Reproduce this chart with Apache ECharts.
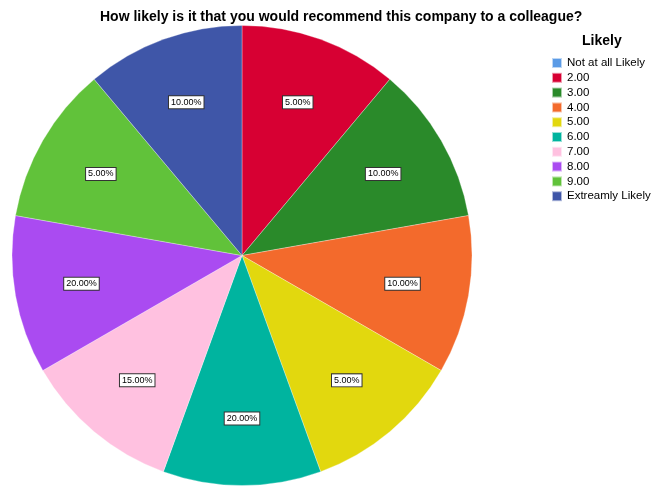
<!DOCTYPE html>
<html>
<head>
<meta charset="utf-8">
<script src="https://cdn.jsdelivr.net/npm/echarts@6/dist/echarts.min.js"></script>
<style>
html,body{margin:0;padding:0;background:#fff;}
#chart{width:651px;height:488px;}
</style>
</head>
<body>
<div id="chart"></div>
<script>
const categories = ['Not at all Likely','2.00','3.00','4.00','5.00','6.00','7.00','8.00','9.00','Extreamly Likely'];
// slice sizes as drawn in the reference (equal sectors; first category empty)
const sliceValues = [0,1,1,1,1,1,1,1,1,1];
// percentage labels printed on the slices
const percentValues = [0,5,10,10,5,20,15,20,5,10];
const colors = ['#5B9BE6','#D70033','#2A8A2A','#F36A2C','#E2D80E','#00B49F','#FFC1E0','#AA4BF1','#61C23A','#3F56A8'];

const FONT = '"Liberation Sans", Arial, sans-serif';

const pieData = categories.map((c,i)=>({
  name: c, value: sliceValues[i],
  itemStyle: {color: colors[i]}
}));
const labelData = categories.map((c,i)=>({
  name: c, value: sliceValues[i],
  label: {show: sliceValues[i] > 0}
}));

const chart = echarts.init(document.getElementById('chart'), null, {renderer:'canvas'});
chart.setOption({
  animation: false,
  color: colors,
  title: [
    {text: 'How likely is it that you would recommend this company to a colleague?',
     left: 100, top: 10,
     textStyle: {fontFamily: FONT, fontSize: 14, fontWeight: 'bold', color: '#000'}, padding: 0},
    {text: 'Likely', left: 582, top: 34,
     textStyle: {fontFamily: FONT, fontSize: 14, fontWeight: 'bold', color: '#000'}, padding: 0}
  ],
  legend: {
    orient: 'vertical', left: 551, top: 57, padding: 0,
    itemWidth: 10, itemHeight: 10, itemGap: 2.8, icon: 'rect',
    selectedMode: false,
    data: categories,
    textStyle: {fontFamily: FONT, fontSize: 11.5, color: '#000', lineHeight: 10}
  },
  series: [
    {
      type: 'pie', name: 'pie',
      center: [242, 255.5], radius: [0, 230],
      startAngle: 90, clockwise: true,
      avoidLabelOverlap: false,
      label: {show: false}, labelLine: {show: false},
      itemStyle: {borderColor: 'rgba(255,255,255,0.6)', borderWidth: 0.5},
      emphasis: {disabled: true},
      data: pieData
    },
    {
      type: 'pie', name: 'labels',
      center: [242, 255.5], radius: [90, 230],
      startAngle: 90, clockwise: true, silent: true,
      avoidLabelOverlap: false,
      itemStyle: {color: 'rgba(0,0,0,0)', borderWidth: 0},
      emphasis: {disabled: true},
      labelLine: {show: false},
      label: {
        show: true, position: 'inside',
        formatter: p => percentValues[p.dataIndex].toFixed(2) + '%',
        fontFamily: FONT, fontSize: 9, color: '#000',
        backgroundColor: '#fff', borderColor: '#333', borderWidth: 1,
        padding: [2, 2, 1, 2]
      },
      data: labelData
    }
  ]
});
</script>
</body>
</html>
